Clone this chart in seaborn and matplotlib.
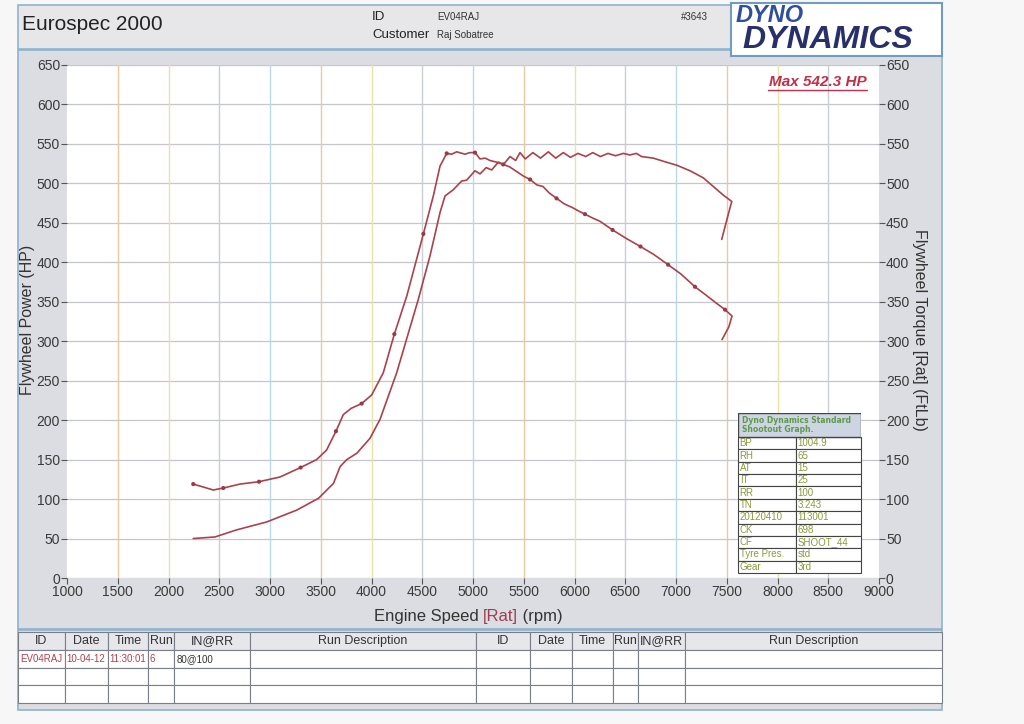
import matplotlib
matplotlib.use("Agg")
import matplotlib.pyplot as plt
import seaborn as sns
import pandas as pd
from matplotlib.patches import Rectangle
from matplotlib.lines import Line2D

# values
power_rpm = [2244, 2458, 2672, 2967, 3263, 3478, 3626, 3690, 3756, 3855, 3985, 4084, 4248, 4461,
             4576, 4675, 4724, 4806, 4888, 4937, 5020, 5069, 5130, 5184, 5250, 5300, 5365, 5420,
             5463, 5515, 5590, 5665, 5742, 5815, 5890, 5960, 6035, 6110, 6180, 6255, 6330, 6405,
             6480, 6545, 6610, 6660, 6777, 6876, 7008, 7138, 7269, 7368, 7467, 7550, 7532, 7450]
power_hp = [50, 52, 61, 71, 86, 101, 120, 141, 150, 158, 177, 201, 260, 353,
            408, 463, 484, 492, 503, 504, 516, 512, 520, 517, 527, 524, 534, 529,
            539, 531, 539, 532, 540, 532, 539, 533, 538, 534, 539, 534, 538, 535,
            538, 536, 538, 534, 532, 528, 523, 516, 507, 496, 485, 477, 469, 429]

torque_rpm = [2244, 2350, 2441, 2540, 2704, 2892, 3099, 3302, 3459, 3557, 3650, 3722, 3800, 3903,
              4002, 4116, 4225, 4347, 4511, 4609, 4675, 4741, 4790, 4839, 4921, 4970, 5020, 5069,
              5120, 5167, 5230, 5298, 5360, 5430, 5500, 5562, 5630, 5690, 5750, 5823, 5900, 5985,
              6040, 6103, 6180, 6251, 6375, 6513, 6650, 6780, 6922, 7050, 7187, 7300, 7400, 7483,
              7552, 7520, 7453]
torque_ftlb = [119, 115, 111.5, 114, 119, 122, 128, 140, 150, 162, 186, 207, 215, 221,
               232, 260, 309, 357, 436, 484, 522, 538, 537, 540, 537, 539, 539, 531,
               532, 529, 527, 524, 521, 515, 509, 505, 498, 496, 488, 481, 474, 469,
               465, 461, 456, 452, 441, 430, 420, 410, 397, 385, 369, 358, 348, 340,
               332, 318, 302]

dot_rpm = [2244, 2540, 2892, 3302, 3650, 3903, 4225, 4511, 4741, 5020, 5298, 5562, 5823,
           6103, 6375, 6650, 6922, 7187, 7483]
dot_ftlb = [119, 114, 122, 140, 186, 221, 309, 436, 538, 539, 524, 505, 481,
            461, 441, 420, 397, 369, 340]

rpm_ticks = list(range(1000, 9001, 500))
val_ticks = list(range(0, 651, 50))
vline_colors = ["#e9c9a0", "#ece2a8", "#c9cdd6", "#b9d9e8"]

info_keys = ["BP", "RH", "AT", "IT", "RR", "TN", "20120410", "CK", "CF", "Tyre Pres.", "Gear"]
info_vals = ["1004.9", "65", "15", "25", "100", "3.243", "113001", "698", "SHOOT_44", "std", "3rd"]

run_cols = ["ID", "Date", "Time", "Run", "IN@RR", "Run Description"] * 2
run_row = ["EV04RAJ", "10-04-12", "11:30:01", "6", "80@100", "", "", "", "", "", "", ""]

sns.set_style("white")
plt.rcParams["font.family"] = ["Liberation Sans Narrow", "Liberation Sans", "DejaVu Sans"]

W, H = 1024, 724
fig = plt.figure(figsize=(10.24, 7.24), dpi=100)
fig.patch.set_facecolor("#f7f7f8")


def fx(px):
    return px / W


def fy(py):
    return 1 - py / H


def box(x0, y0, x1, y1, fc, ec="#8fb3cc", lw=1.2, z=-5):
    fig.patches.append(Rectangle((fx(x0), fy(y1)), fx(x1) - fx(x0), fy(y0) - fy(y1),
                                 transform=fig.transFigure, facecolor=fc, edgecolor=ec,
                                 linewidth=lw, zorder=z))


# page panels
box(18, 5, 942, 49, "#e7e7ea")
box(18, 50, 942, 629, "#dcdde2")
box(18, 630, 942, 710, "#dcdde2")
box(731, 3, 942, 56, "#ffffff", ec="#6f9cc0", lw=1.5, z=1)

# header text
fig.text(fx(22), fy(25), "Eurospec 2000", fontsize=15, color="#222222", va="center")
fig.text(fx(372), fy(17), "ID", fontsize=9.5, color="#222222", va="center")
fig.text(fx(372), fy(35), "Customer", fontsize=9.5, color="#222222", va="center")
fig.text(fx(437), fy(17), "EV04RAJ", fontsize=7, color="#333333", va="center")
fig.text(fx(437), fy(35), "Raj Sobatree", fontsize=7, color="#333333", va="center")
fig.text(fx(681), fy(17), "#3643", fontsize=7, color="#333333", va="center")
fig.text(fx(736), fy(15), "DYNO", fontsize=17, color="#2f4f9e", fontweight="bold",
         fontstyle="italic", va="center", zorder=2, family=["Liberation Sans", "DejaVu Sans"])
fig.text(fx(742), fy(40), "DYNAMICS", fontsize=23, color="#27306a", fontweight="bold",
         fontstyle="italic", va="center", zorder=2, family=["Liberation Sans", "DejaVu Sans"])

# main chart
ax = fig.add_axes([fx(67), fy(578), fx(879) - fx(67), fy(65) - fy(578)])
ax.set_facecolor("#ffffff")
ax.set_xlim(1000, 9000)
ax.set_ylim(0, 650)

for v in val_ticks:
    ax.axhline(v, color="#c4c6cc", lw=0.9, zorder=0)
for i, r in enumerate(rpm_ticks[1:-1]):
    ax.axvline(r, color=vline_colors[i % len(vline_colors)], lw=1.0, zorder=0)

curve_color = "#a8424c"
sns.lineplot(x=power_rpm, y=power_hp, sort=False, estimator=None, color=curve_color,
             lw=1.2, ax=ax)
sns.lineplot(x=torque_rpm, y=torque_ftlb, sort=False, estimator=None, color=curve_color,
             lw=1.2, ax=ax)
sns.scatterplot(x=dot_rpm, y=dot_ftlb, color="#9a3a44", s=9, edgecolor="none", ax=ax, zorder=3)

ax.set_xticks(rpm_ticks)
ax.set_yticks(val_ticks)
ax.tick_params(axis="both", labelsize=10, labelcolor="#3a3a3a", color="#555555",
               length=4, width=0.8, direction="out", left=True, bottom=True, pad=1)
for s in ax.spines.values():
    s.set_visible(False)

ax2 = ax.twinx()
ax2.set_ylim(0, 650)
ax2.set_yticks(val_ticks)
ax2.tick_params(axis="y", labelsize=10, labelcolor="#3a3a3a", color="#555555",
                length=4, width=0.8, direction="out", right=True, pad=1)
for s in ax2.spines.values():
    s.set_visible(False)

fig.text(fx(28), fy(320), "Flywheel Power (HP)", rotation=90, fontsize=11.5, color="#333333",
         ha="center", va="center")
fig.text(fx(919), fy(330), "Flywheel Torque [Rat] (FtLb)", rotation=270, fontsize=11.5,
         color="#333333", ha="center", va="center")
fig.text(fx(483), fy(616), "Engine Speed ", fontsize=12, color="#333333", ha="right", va="center")
fig.text(fx(483), fy(616), "[Rat]", fontsize=12, color="#9a4050", ha="left", va="center")
fig.text(fx(518), fy(616), " (rpm)", fontsize=12, color="#333333", ha="left", va="center")

# max label
fig.text(fx(867), fy(82), "Max 542.3 HP", fontsize=11, color="#c0304a", fontstyle="italic",
         fontweight="bold", ha="right", va="center", family=["Liberation Sans", "DejaVu Sans"])
fig.lines.append(Line2D([fx(768), fx(867)], [fy(90), fy(90)], transform=fig.transFigure,
                        color="#c0304a", lw=1.0))

# shootout info table
tax = fig.add_axes([fx(738), fy(573), fx(861) - fx(738), fy(413) - fy(573)])
tax.axis("off")
tax.add_patch(Rectangle((0, 0.85), 1, 0.15, transform=tax.transAxes, facecolor="#cdd4e2",
                        edgecolor="#444444", lw=1.0))
tax.text(0.03, 0.925, "Dyno Dynamics Standard\nShootout Graph.", transform=tax.transAxes,
         fontsize=5.5, color="#5d9a4c", fontweight="bold", va="center", linespacing=1.0,
         family=["DejaVu Sans"])
info_df = pd.DataFrame({"k": info_keys, "v": info_vals})
tbl = tax.table(cellText=info_df.values.tolist(), colWidths=[0.47, 0.53],
                bbox=[0, 0, 1, 0.85], cellLoc="left")
tbl.auto_set_font_size(False)
tbl.set_fontsize(7)
for cell in tbl.get_celld().values():
    cell.set_edgecolor("#444444")
    cell.set_linewidth(0.8)
    cell.set_facecolor("#ffffff")
    cell.get_text().set_color("#8a9a3a")
    cell.PAD = 0.03

# run table at the bottom
rax = fig.add_axes([fx(18), fy(703), fx(942) - fx(18), fy(632) - fy(703)])
rax.axis("off")
col_px = [47, 43, 40, 26, 76, 226, 54, 42, 41, 25, 47, 257]
tot = sum(col_px)
run_df = pd.DataFrame([run_row, [""] * 12, [""] * 12], columns=run_cols)
rt = rax.table(cellText=run_df.values.tolist(), colLabels=run_cols,
               colWidths=[c / tot for c in col_px], bbox=[0, 0, 1, 1], cellLoc="left")
rt.auto_set_font_size(False)
rt.set_fontsize(7)
for (r, c), cell in rt.get_celld().items():
    cell.set_edgecolor("#7a7e88")
    cell.set_linewidth(0.8)
    cell.set_facecolor("#ffffff")
    cell.PAD = 0.04
    if r == 0:
        cell.set_facecolor("#e6e7ea")
        cell.get_text().set_fontsize(9)
        cell.get_text().set_color("#333333")
        cell.get_text().set_ha("center")
        cell._loc = "center"
    elif r == 1 and c < 4:
        cell.get_text().set_color("#b04050")
    else:
        cell.get_text().set_color("#333333")

fig.savefig("out.png", dpi=100, facecolor=fig.get_facecolor())
